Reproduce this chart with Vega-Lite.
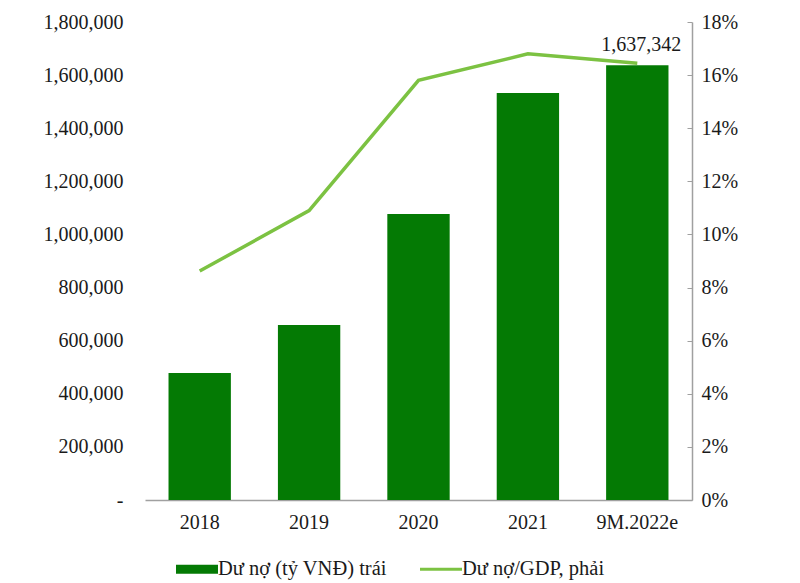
{
  "$schema": "https://vega.github.io/schema/vega-lite/v6.json",
  "width": 547,
  "height": 478,
  "autosize": "none",
  "padding": {"left": 145, "top": 22, "right": 108, "bottom": 83},
  "background": "white",
  "config": {
    "view": {"stroke": null},
    "font": "Liberation Serif",
    "axis": {"grid": false, "labelFont": "Liberation Serif", "labelFontSize": 20, "labelColor": "#1a1a1a"}
  },
  "data": {
    "values": [
      {"year": "2018", "debt": 478000, "ratio": 8.62},
      {"year": "2019", "debt": 659000, "ratio": 10.9},
      {"year": "2020", "debt": 1077000, "ratio": 15.8},
      {"year": "2021", "debt": 1533000, "ratio": 16.8},
      {"year": "9M.2022e", "debt": 1637342, "ratio": 16.45}
    ]
  },
  "encoding": {
    "x": {
      "field": "year", "type": "ordinal", "sort": null,
      "scale": {"paddingInner": 0.43, "paddingOuter": 0.215},
      "axis": {"title": null, "labelAngle": 0, "ticks": false, "domainColor": "#a0a0a0", "domainWidth": 1.5, "labelPadding": 12}
    }
  },
  "layer": [
    {
      "mark": {"type": "bar", "color": "#047a04"},
      "encoding": {
        "y": {
          "field": "debt", "type": "quantitative",
          "scale": {"domain": [0, 1800000]},
          "axis": {
            "title": null, "domain": false, "ticks": false, "labelPadding": 22,
            "values": [0, 200000, 400000, 600000, 800000, 1000000, 1200000, 1400000, 1600000, 1800000],
            "labelExpr": "datum.value === 0 ? '-' : format(datum.value, ',')"
          }
        },
        "color": {
          "datum": "Dư nợ (tỷ VNĐ) trái",
          "scale": {"domain": ["Dư nợ (tỷ VNĐ) trái", "Dư nợ/GDP, phải"], "range": ["#047a04", "#7cc242"]},
          "legend": {
            "orient": "none", "legendX": 31, "legendY": 526, "direction": "horizontal",
            "title": null, "labelFont": "Liberation Serif", "labelFontSize": 20.5, "labelColor": "#1a1a1a",
            "labelLimit": 400,
            "symbolSize": 1764, "columnPadding": 33, "labelOffset": 0,
            "encode": {
              "symbols": {
                "update": {
                  "shape": {"signal": "datum.value === 'Dư nợ (tỷ VNĐ) trái' ? 'M-1,-0.22H1V0.22H-1Z' : 'M-1,-0.075H1V0.075H-1Z'"},
                  "fill": {"scale": "color", "field": "value"},
                  "fillOpacity": {"value": 1},
                  "strokeWidth": {"value": 0}
                }
              }
            }
          }
        }
      }
    },
    {
      "transform": [{"filter": "datum.year === '9M.2022e'"}],
      "mark": {"type": "text", "baseline": "bottom", "dy": -10, "dx": 4, "font": "Liberation Serif", "fontSize": 20, "color": "#1a1a1a"},
      "encoding": {
        "y": {"field": "debt", "type": "quantitative", "scale": {"domain": [0, 1800000]}, "axis": null},
        "text": {"field": "debt", "type": "quantitative", "format": ","}
      }
    },
    {
      "mark": {"type": "line", "strokeWidth": 3.5},
      "encoding": {
        "y": {
          "field": "ratio", "type": "quantitative",
          "scale": {"domain": [0, 18]},
          "axis": {
            "title": null, "orient": "right", "values": [0, 2, 4, 6, 8, 10, 12, 14, 16, 18],
            "labelExpr": "datum.value + '%'", "domainColor": "#a0a0a0", "domainWidth": 1.5,
            "tickColor": "#a0a0a0", "tickSize": -5, "labelPadding": 14
          }
        },
        "color": {"datum": "Dư nợ/GDP, phải"}
      }
    }
  ],
  "resolve": {"scale": {"y": "independent"}}
}
